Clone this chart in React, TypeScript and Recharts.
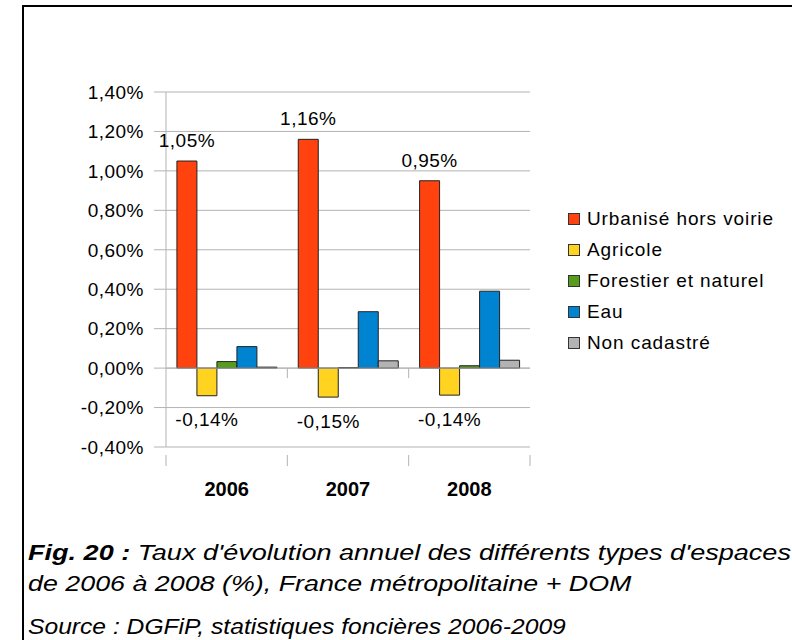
import React from 'react';
import { BarChart, Bar, XAxis, YAxis, CartesianGrid, ReferenceLine, Legend, LabelList } from 'recharts';

const years = ['2006', '2007', '2008'];
const urbanise = [1.05, 1.16, 0.95];
const agricole = [-0.14, -0.147, -0.137];
const forestier = [0.033, 0.002, 0.012];
const eau = [0.109, 0.286, 0.39];
const nonCadastre = [0.005, 0.037, 0.04];
const yTicks = [-0.4, -0.2, 0, 0.2, 0.4, 0.6, 0.8, 1.0, 1.2, 1.4];

const seriesNames = ['Urbanisé hors voirie', 'Agricole', 'Forestier et naturel', 'Eau', 'Non cadastré'];
const seriesColors = ['#ff420e', '#ffd320', '#579d1c', '#0084d1', '#b3b3b3'];

const data = years.map((y, i) => ({
  year: y,
  s0: urbanise[i],
  s1: agricole[i],
  s2: forestier[i],
  s3: eau[i],
  s4: nonCadastre[i],
}));

const FONT = '"Liberation Sans", Arial, sans-serif';
const fmt = (v: any) => `${Number(v).toFixed(2).replace('.', ',')}%`;

const CHART_W = 792;
const CHART_H = 520;
const MARGIN = { top: 92, right: 262, bottom: 33, left: 86 };
const Y_W = 80;
const HALF_BAND = (CHART_W - MARGIN.left - Y_W - MARGIN.right) / years.length / 2;

const XTick = (props: any) => {
  const { x, y, payload } = props;
  return (
    <g>
      <line x1={x + HALF_BAND} x2={x + HALF_BAND} y1={y} y2={y + 11} stroke="#b3b3b3" strokeWidth={1} />
      {payload.index === 0 && (
        <line x1={x - HALF_BAND} x2={x - HALF_BAND} y1={y} y2={y + 11} stroke="#b3b3b3" strokeWidth={1} />
      )}
      <text x={x} y={y + 41} textAnchor="middle" fontFamily={FONT} fontWeight="bold" fontSize={20} fill="#000">
        {payload.value}
      </text>
    </g>
  );
};

const ZeroLine = (props: any) => {
  const { x1, x2, y1, y2 } = props;
  const n = years.length;
  const marks = [];
  for (let k = 1; k < n; k++) {
    const xx = x1 + ((x2 - x1) * k) / n;
    marks.push(<line key={k} x1={xx} x2={xx} y1={y1} y2={y1 + 10} stroke="#b3b3b3" strokeWidth={1} />);
  }
  return (
    <g>
      <line x1={x1} x2={x2} y1={y1} y2={y2} stroke="#b3b3b3" strokeWidth={1} />
      {marks}
    </g>
  );
};

const LegendContent = (props: any) => {
  const payload = [...(props.payload || [])].sort(
    (a: any, b: any) => seriesNames.indexOf(a.value) - seriesNames.indexOf(b.value)
  );
  return (
    <div style={{ fontFamily: FONT, fontSize: 19, letterSpacing: 0.9, color: '#000' }}>
      {payload.map((p: any, i: number) => (
        <div key={i} style={{ height: 31, display: 'flex', alignItems: 'center', whiteSpace: 'nowrap' }}>
          <span
            style={{
              display: 'inline-block',
              width: 12,
              height: 12,
              background: p.color,
              border: '1px solid #333',
              marginRight: 7,
              boxSizing: 'border-box',
            }}
          />
          <span>{p.value}</span>
        </div>
      ))}
    </div>
  );
};

const capStyle: React.CSSProperties = {
  position: 'absolute',
  left: 28,
  fontFamily: FONT,
  fontStyle: 'italic',
  fontSize: 22,
  lineHeight: '22px',
  whiteSpace: 'nowrap',
  color: '#000',
  transformOrigin: '0 0',
};

export default function App() {
  return (
    <div style={{ position: 'absolute', left: 0, top: 0, width: 792, height: 640, overflow: 'hidden', background: '#fff' }}>
      <div
        style={{
          position: 'absolute',
          left: 22,
          top: 5,
          width: 900,
          height: 900,
          borderLeft: '2px solid #000',
          borderTop: '2px solid #000',
        }}
      />
      <div style={{ position: 'absolute', left: 0, top: 0 }}>
        <BarChart width={CHART_W} height={CHART_H} data={data} margin={MARGIN} barCategoryGap="9%" barGap={0}>
          <CartesianGrid vertical={false} stroke="#b3b3b3" yAxisId="l" />
          <XAxis dataKey="year" axisLine={false} tickLine={false} height={40} tick={<XTick />} interval={0} />
          <YAxis
            yAxisId="l"
            width={Y_W}
            domain={[-0.4, 1.4]}
            ticks={yTicks}
            interval={0}
            tickFormatter={fmt}
            tickSize={12}
            tickMargin={10}
            axisLine={{ stroke: '#b3b3b3' }}
            tickLine={{ stroke: '#b3b3b3' }}
            tick={{ fontFamily: FONT, fontSize: 19, letterSpacing: 0.5, fill: '#000' }}
          />
          <YAxis
            yAxisId="r"
            orientation="right"
            width={0}
            domain={[-0.4, 1.4]}
            tick={false}
            tickLine={false}
            axisLine={{ stroke: '#b3b3b3' }}
          />
          <ReferenceLine y={0} yAxisId="l" stroke="#b3b3b3" shape={<ZeroLine />} />
          <Legend
            layout="vertical"
            align="center"
            verticalAlign="middle"
            content={<LegendContent />}
            wrapperStyle={{ left: 568, top: 203, width: 224 }}
          />
          {['s0', 's1', 's2', 's3', 's4'].map((k, i) => (
            <Bar
              key={k}
              dataKey={k}
              yAxisId="l"
              name={seriesNames[i]}
              fill={seriesColors[i]}
              stroke="#222"
              strokeWidth={1}
              isAnimationActive={false}
            >
              {i === 0 && (
                <LabelList dataKey={k} position="top" offset={14} formatter={fmt} fontFamily={FONT} fontSize={19} letterSpacing={0.5} fill="#000" />
              )}
              {i === 1 && (
                <LabelList dataKey={k} position="top" offset={17} formatter={fmt} fontFamily={FONT} fontSize={19} letterSpacing={0.5} fill="#000" />
              )}
            </Bar>
          ))}
        </BarChart>
      </div>
      <div style={{ ...capStyle, top: 542, transform: 'scaleX(1.23)' }}>
        <b>Fig. 20 :</b> Taux d'évolution annuel des différents types d'espaces
      </div>
      <div style={{ ...capStyle, top: 573, transform: 'scaleX(1.22)' }}>
        de 2006 à 2008 (%), France métropolitaine + DOM
      </div>
      <div style={{ ...capStyle, top: 616, transform: 'scaleX(1.12)' }}>
        Source : DGFiP, statistiques foncières 2006-2009
      </div>
    </div>
  );
}
